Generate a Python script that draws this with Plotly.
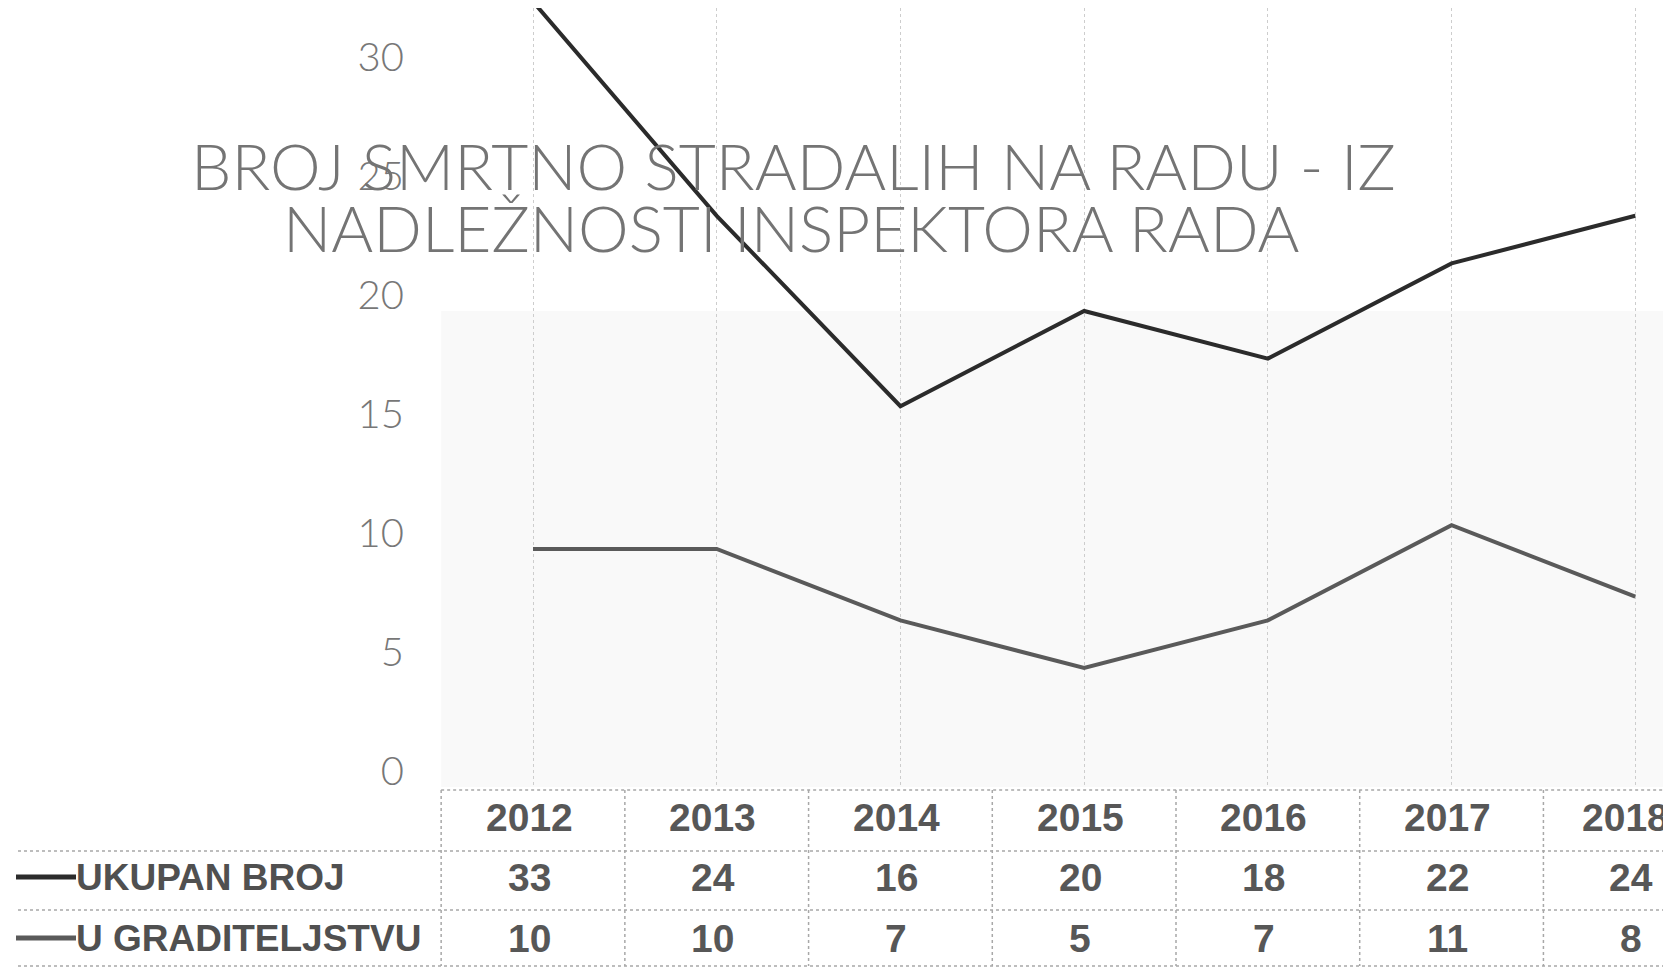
import plotly.graph_objects as go

years = [2012, 2013, 2014, 2015, 2016, 2017, 2018]
ukupan_broj = [33, 24, 16, 20, 18, 22, 24]
u_graditeljstvu = [10, 10, 7, 5, 7, 11, 8]
y_ticks = [0, 5, 10, 15, 20, 25, 30]
row_labels = ["UKUPAN BROJ", "U GRADITELJSTVU"]
title_lines = ["BROJ SMRTNO STRADALIH NA RADU - IZ", "NADLEŽNOSTI INSPEKTORA RADA"]

W, H = 1671, 979
PLOT_BOTTOM = 779  # pixel row of the x axis


def py(p):
    # pixel row -> paper y
    return (PLOT_BOTTOM - p) / PLOT_BOTTOM


def px_(p):
    return p / W


line_colors = ["#2b2b2b", "#5a5a5a"]
series = [ukupan_broj, u_graditeljstvu]

fig = go.Figure()
for vals, col, name in zip(series, line_colors, row_labels):
    fig.add_trace(go.Scatter(
        x=years, y=vals, mode="lines", name=name,
        line=dict(color=col, width=4),
        hoverinfo="x+y+name"
    ))

dom_start = 397
x_start, x_end = 2012 - (525 - dom_start) / 183.7, 2018.238

shapes = []
# faint scanned paper tint in the plot area
shapes.append(dict(type="rect", xref="x", yref="y", x0=2011.5, x1=x_end, y0=0, y1=20,
                   fillcolor="#f9f9f9", line=dict(width=0), layer="below"))

# table grid
grid = dict(color="#a8a8a8", width=1.5, dash="dot")
table_top, table_rows = 782, [843, 902, 958]
shapes.append(dict(type="line", xref="x", yref="paper", x0=2011.5, x1=x_end,
                   y0=py(table_top), y1=py(table_top), line=grid))
for r in table_rows:
    shapes.append(dict(type="line", xref="paper", yref="paper", x0=px_(10), x1=1,
                       y0=py(r), y1=py(r), line=grid))
for yr in years:
    shapes.append(dict(type="line", xref="x", yref="paper", x0=yr - 0.5, x1=yr - 0.5,
                       y0=py(table_top), y1=py(table_rows[-1]), line=grid))

annotations = []
# title
for txt, cx, cy in zip(title_lines, [785, 783], [158, 220]):
    annotations.append(dict(text=txt, xref="paper", yref="paper", x=px_(cx), y=py(cy),
                            xanchor="center", yanchor="middle", showarrow=False,
                            font=dict(family="Lato", size=64, color="#747474", weight=300)))

# header row with years
cell_font = dict(family="Liberation Sans", size=39, color="#575757", weight="bold")
header_y, row_ys = 809, [869, 930]
for yr in years:
    annotations.append(dict(text=str(yr), xref="x", yref="paper", x=yr, y=py(header_y),
                            xshift=-4 if yr != years[-1] else -10, showarrow=False,
                            xanchor="center", yanchor="middle", font=cell_font))
for vals, ry in zip(series, row_ys):
    for yr, v in zip(years, vals):
        annotations.append(dict(text=str(v), xref="x", yref="paper", x=yr, y=py(ry),
                                xshift=-4, showarrow=False, xanchor="center",
                                yanchor="middle", font=cell_font))

# row labels with legend dashes
for label, col, ry in zip(row_labels, line_colors, row_ys):
    shapes.append(dict(type="line", xref="paper", yref="paper", x0=px_(8), x1=px_(68),
                       y0=py(ry), y1=py(ry), line=dict(color=col, width=5)))
    annotations.append(dict(text=label, xref="paper", yref="paper", x=px_(66), y=py(ry),
                            showarrow=False, xanchor="left", yanchor="middle",
                            font=dict(family="Liberation Sans", size=37, color="#505050",
                                      weight="bold")))

fig.update_layout(
    width=W, height=H,
    margin=dict(l=0, r=0, t=0, b=H - PLOT_BOTTOM),
    paper_bgcolor="white", plot_bgcolor="white",
    showlegend=False,
    xaxis=dict(domain=[dom_start / W, 1], range=[x_start, x_end], tickvals=years,
               showticklabels=False, showgrid=True, gridcolor="#cdcdcd", griddash="dot",
               gridwidth=1, zeroline=False, showline=False, ticks=""),
    yaxis=dict(range=[0, PLOT_BOTTOM / 23.8], tickvals=y_ticks, showgrid=False,
               zeroline=False, showline=False, ticks="", ticklabelshift=-16,
               tickfont=dict(family="Lato", size=40, color="#777777", weight=300)),
    shapes=shapes,
    annotations=annotations,
)

fig.write_html("out.html")
